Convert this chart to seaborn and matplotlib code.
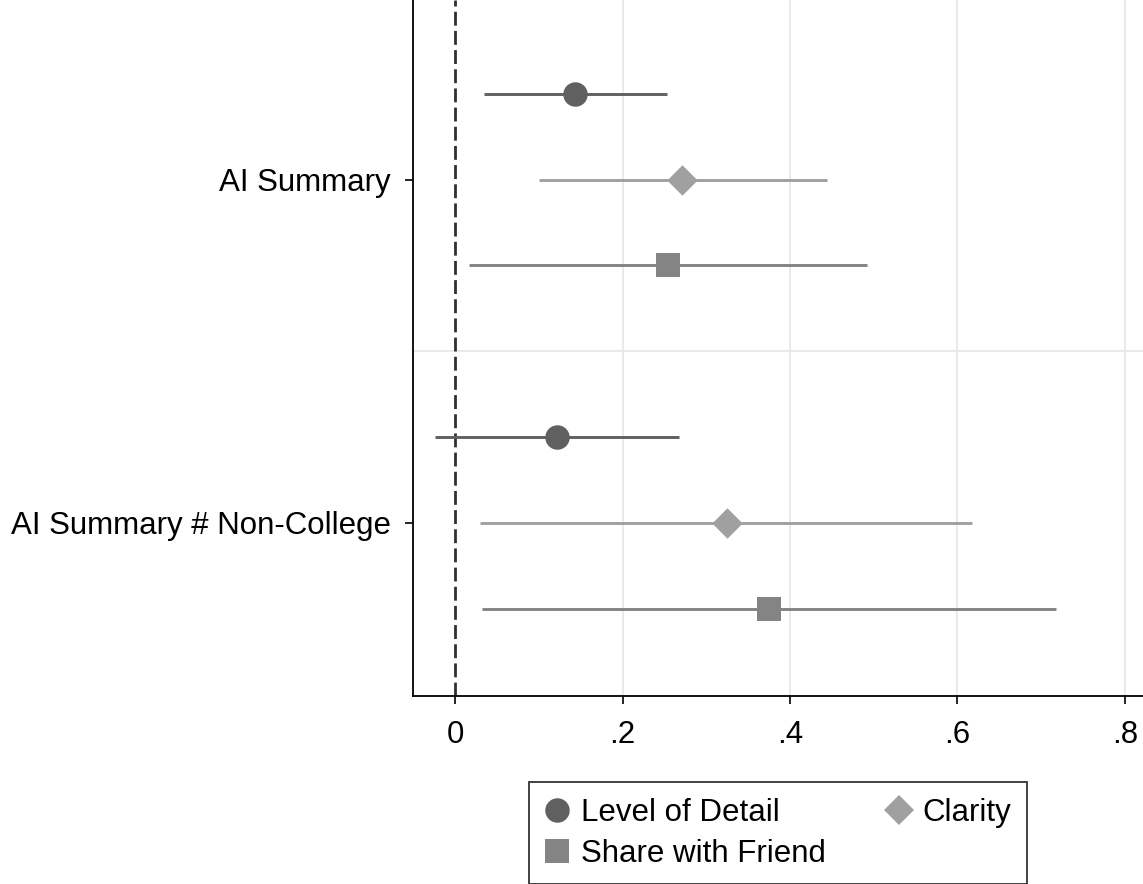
import seaborn as sns
import matplotlib.pyplot as plt
import pandas as pd
from matplotlib.lines import Line2D

sns.set_style("white")
plt.rcParams['font.family'] = ['Liberation Sans', 'DejaVu Sans']
plt.rcParams['text.color'] = 'black'
plt.rcParams['xtick.color'] = 'black'
plt.rcParams['ytick.color'] = 'black'
plt.rcParams['xtick.labelcolor'] = 'black'
plt.rcParams['ytick.labelcolor'] = 'black'

# coefficients
terms = ["AI Summary", "AI Summary # Non-College"]
outcomes = ["Level of Detail", "Clarity", "Share with Friend"]
coef = {
    "Level of Detail": [0.143, 0.122],
    "Clarity": [0.271, 0.325],
    "Share with Friend": [0.254, 0.375],
}
ci_low = {
    "Level of Detail": [0.035, -0.024],
    "Clarity": [0.100, 0.030],
    "Share with Friend": [0.017, 0.032],
}
ci_high = {
    "Level of Detail": [0.253, 0.267],
    "Clarity": [0.444, 0.617],
    "Share with Friend": [0.492, 0.718],
}
xticks = [0, 0.2, 0.4, 0.6, 0.8]
xticklabels = ["0", ".2", ".4", ".6", ".8"]

colors = {"Level of Detail": "#606060", "Clarity": "#a0a0a0", "Share with Friend": "#848484"}
markers = {"Level of Detail": "o", "Clarity": "D", "Share with Friend": "s"}
msize = {"Level of Detail": 310, "Clarity": 240, "Share with Friend": 300}
offsets = {"Level of Detail": -0.25, "Clarity": 0.0, "Share with Friend": 0.25}

rows = []
for o in outcomes:
    for i, t in enumerate(terms):
        rows.append({"term": t, "outcome": o, "coef": coef[o][i],
                     "lo": ci_low[o][i], "hi": ci_high[o][i],
                     "y": i + offsets[o]})
df = pd.DataFrame(rows)

fig = plt.figure(figsize=(11.43, 8.84), dpi=100)
ax = fig.add_axes([0.3613, 0.2127, 0.6387, 0.7873])

# grid
for xv in xticks[1:]:
    ax.axvline(xv, color="#e6e6e6", lw=1.2, zorder=0)
ax.axhline(0.5, color="#e6e6e6", lw=1.2, zorder=0)
ax.axvline(0, color="#303030", lw=2.0, dashes=(5, 1.9), zorder=1)

for o in outcomes:
    d = df[df.outcome == o]
    ax.hlines(d["y"], d["lo"], d["hi"], color=colors[o], lw=2.1, zorder=2)
    sns.scatterplot(data=d, x="coef", y="y", color=colors[o], marker=markers[o],
                    s=msize[o], linewidth=0, ax=ax, zorder=3, legend=False)

ax.set_xlim(-0.0502, 0.8215)
ax.set_ylim(1.5036, -0.5226)
ax.set_xticks(xticks)
ax.set_xticklabels(xticklabels)
ax.set_yticks(range(len(terms)))
ax.set_yticklabels(terms)
ax.set_xlabel("")
ax.set_ylabel("")
ax.tick_params(axis="both", labelsize=22.5, length=6, width=1.2, color="black",
               labelcolor="black", direction="out")
ax.tick_params(axis="y", pad=10)
ax.tick_params(axis="x", pad=11)
ax.tick_params(left=True, bottom=True)
for s in ["top", "right"]:
    ax.spines[s].set_visible(False)
for s in ["left", "bottom"]:
    ax.spines[s].set_color("black")
    ax.spines[s].set_linewidth(1.3)

# legend, row-major order like the reference
handles = {
    o: Line2D([], [], linestyle="none", marker=markers[o], color=colors[o],
              markersize=(msize[o] ** 0.5), markeredgewidth=0)
    for o in outcomes
}
order = ["Level of Detail", "Share with Friend", "Clarity"]
leg = fig.legend([handles[o] for o in order], order, ncol=2, loc="upper center",
                 bbox_to_anchor=(778 / 1143, 1 - 782 / 884), fontsize=22.5,
                 frameon=True, fancybox=False, edgecolor="black",
                 handletextpad=0.35, columnspacing=1.95, handlelength=0.8,
                 borderpad=0.5, labelspacing=0.35, borderaxespad=0)
leg.get_frame().set_linewidth(1.3)
for t in leg.get_texts():
    t.set_color("black")

fig.savefig("out.png", dpi=100)
